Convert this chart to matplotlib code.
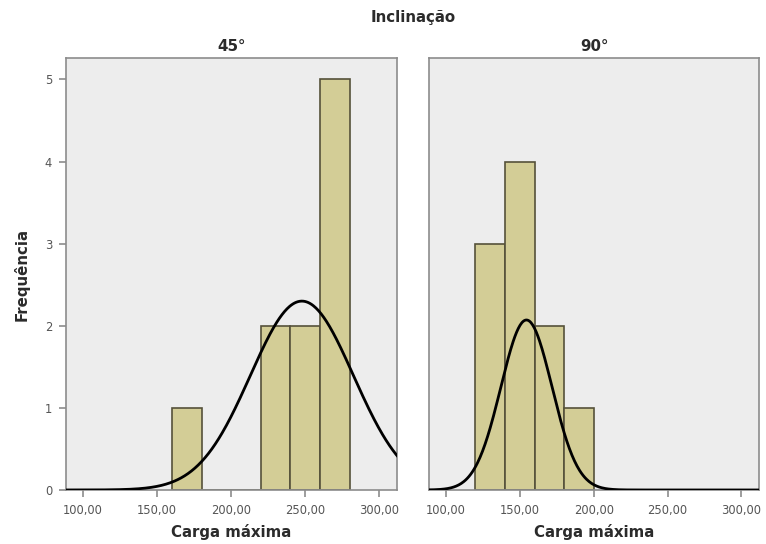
import numpy as np
import matplotlib
matplotlib.use("Agg")
import matplotlib.pyplot as plt

# histogram bins (lower edges) and counts for each inclination
bin_width = 20
bins_45 = [160, 180, 200, 220, 240, 260]
counts_45 = [1, 0, 0, 2, 2, 5]
bins_90 = [120, 140, 160, 180]
counts_90 = [3, 4, 2, 1]

# normal curve parameters: mean, sd, peak height
curve_45 = (247.8, 34.8, 2.30)
curve_90 = (154.5, 17.3, 2.07)

panel_titles = ["45°", "90°"]
xticks = [100, 150, 200, 250, 300]
xtick_labels = ["100,00", "150,00", "200,00", "250,00", "300,00"]
yticks = [0, 1, 2, 3, 4, 5]

bg = "#ededed"
bar_fill = "#d3cd96"
bar_edge = "#55513a"
frame = "#8c8c8c"
txt = "#2b2b2b"

fig = plt.figure(figsize=(7.66, 5.44), dpi=100)
fig.patch.set_facecolor("white")

ax1 = fig.add_axes([0.0862, 0.0993, 0.432, 0.794])
ax2 = fig.add_axes([0.560, 0.0993, 0.431, 0.794])

panels = [(ax1, bins_45, counts_45, curve_45), (ax2, bins_90, counts_90, curve_90)]
for i, (ax, bins, counts, curve) in enumerate(panels):
    ax.set_facecolor(bg)
    ax.bar(bins, counts, width=bin_width, align="edge", color=bar_fill,
           edgecolor=bar_edge, linewidth=1.2, zorder=2)
    mu, sd, peak = curve
    xs = np.linspace(85, 315, 400)
    ax.plot(xs, peak * np.exp(-0.5 * ((xs - mu) / sd) ** 2), color="black",
            linewidth=2.0, zorder=3)
    ax.set_xlim(88.5, 312)
    ax.set_ylim(0, 5.26)
    ax.set_xticks(xticks)
    ax.set_xticklabels(xtick_labels, fontsize=8.3, color="#555555")
    ax.tick_params(axis="x", direction="out", length=5, width=1.2, color=frame, pad=5)
    for s in ax.spines.values():
        s.set_color(frame)
        s.set_linewidth(1.2)
    ax.set_xlabel("Carga máxima", fontsize=10.8, fontweight="bold", color=txt, labelpad=5)
    ax.set_title(panel_titles[i], fontsize=10.8, fontweight="bold", color=txt, pad=5)
    if i == 0:
        ax.set_yticks(yticks)
        ax.set_yticklabels([str(v) for v in yticks], fontsize=8.3, color="#555555")
        ax.tick_params(axis="y", direction="out", length=5, width=1.2, color=frame, pad=5)
        ax.set_ylabel("Frequência", fontsize=10.8, fontweight="bold", color=txt, labelpad=11)
    else:
        ax.set_yticks([])

fig.text(0.539, 0.967, "Inclinação", ha="center", va="center", fontsize=10.8,
         fontweight="bold", color=txt)

fig.savefig("out.png", dpi=100)
